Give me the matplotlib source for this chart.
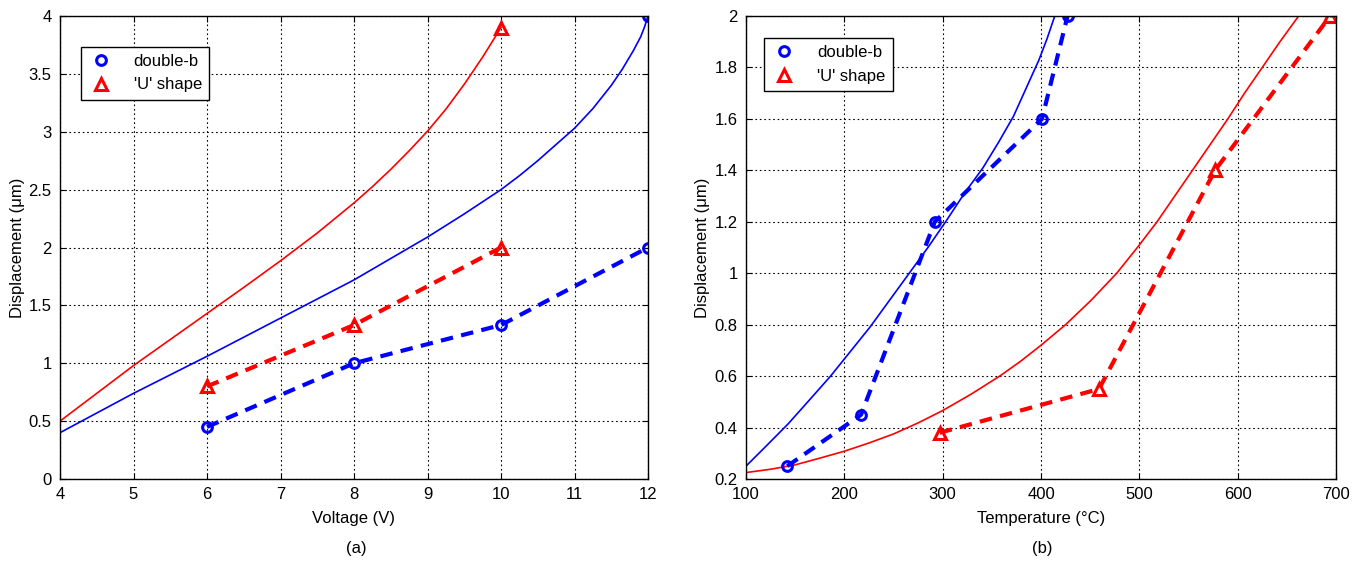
import matplotlib
matplotlib.use("Agg")
import matplotlib.pyplot as plt
from matplotlib.lines import Line2D

plt.rcParams['font.family'] = ['Liberation Sans', 'DejaVu Sans']
plt.rcParams['font.size'] = 12

# panel (a): displacement vs voltage
volt_curve_u = [4, 5, 6, 6.5, 7, 7.5, 8, 8.25, 8.5, 8.75, 9, 9.25, 9.5, 9.75, 10]
disp_curve_u = [0.5, 0.98, 1.43, 1.655, 1.885, 2.125, 2.385, 2.525, 2.675, 2.835, 3.005,
                3.195, 3.41, 3.645, 3.9]
volt_curve_b = [4, 5, 6, 7, 8, 9, 9.5, 10, 10.25, 10.5, 10.75, 11, 11.25, 11.5,
                11.65, 11.8, 11.9, 11.95, 12]
disp_curve_b = [0.4, 0.74, 1.06, 1.39, 1.72, 2.09, 2.29, 2.5, 2.62, 2.75, 2.89, 3.03,
                3.2, 3.4, 3.54, 3.7, 3.82, 3.9, 4.0]
volt_meas_b = [6, 8, 10, 12]
disp_meas_b = [0.45, 1.0, 1.33, 2.0]
volt_meas_u = [6, 8, 10]
disp_meas_u = [0.8, 1.33, 2.0]

# panel (b): displacement vs temperature
temp_curve_b = [100, 121, 143, 164, 186, 206, 226, 246, 266, 285, 303, 322, 341,
                357, 372, 385, 398, 406, 414]
dispT_curve_b = [0.25, 0.33, 0.415, 0.505, 0.6, 0.695, 0.79, 0.895, 1.0, 1.1, 1.2,
                 1.31, 1.41, 1.51, 1.61, 1.72, 1.83, 1.91, 2.0]
temp_curve_u = [100, 125, 150, 175, 200, 225, 250, 275, 300, 329, 358, 379, 400, 425,
                451, 477, 498, 518, 536, 554, 572, 590, 607, 625, 643, 662]
dispT_curve_u = [0.225, 0.238, 0.255, 0.281, 0.308, 0.34, 0.375, 0.418, 0.466, 0.53,
                 0.6, 0.657, 0.72, 0.8, 0.895, 1.0, 1.1, 1.2, 1.3, 1.4, 1.5, 1.6,
                 1.7, 1.8, 1.9, 2.0]
temp_meas_b = [142, 217, 292, 401, 427]
dispT_meas_b = [0.25, 0.45, 1.2, 1.6, 2.0]
temp_meas_u = [297, 459, 577, 694]
dispT_meas_u = [0.38, 0.55, 1.4, 2.0]

W, H = 1358, 562
fig = plt.figure(figsize=(W / 100, H / 100), dpi=100)
ax1 = fig.add_axes([60 / W, 1 - 479 / H, 588 / W, 463 / H])
ax2 = fig.add_axes([746 / W, 1 - 479 / H, 590 / W, 463 / H])

dash_kw = dict(linestyle=(0, (3, 2)), linewidth=3, markersize=7, markeredgewidth=2.2,
               markerfacecolor='none')

# (a)
ax1.plot(volt_curve_u, disp_curve_u, color='red', lw=1.2)
ax1.plot(volt_curve_b, disp_curve_b, color='blue', lw=1.2)
ax1.plot(volt_curve_u[-1:], disp_curve_u[-1:], '^', color='red', ms=9, mew=2.2, mfc='none')
ax1.plot(volt_curve_b[-1:], disp_curve_b[-1:], 'o', color='blue', ms=7, mew=2.2, mfc='none')
ax1.plot(volt_meas_u, disp_meas_u, marker='^', color='red', **{**dash_kw, 'markersize': 9})
ax1.plot(volt_meas_b, disp_meas_b, marker='o', color='blue', **dash_kw)
ax1.set_xlim(4, 12)
ax1.set_ylim(0, 4)
ax1.set_xticks(range(4, 13))
ax1.set_yticks([0, 0.5, 1, 1.5, 2, 2.5, 3, 3.5, 4])
ax1.set_yticklabels(['0', '0.5', '1', '1.5', '2', '2.5', '3', '3.5', '4'])
ax1.set_xlabel('Voltage (V)', labelpad=6)

# (b)
ax2.plot(temp_curve_b, dispT_curve_b, color='blue', lw=1.2)
ax2.plot(temp_curve_u, dispT_curve_u, color='red', lw=1.2)
ax2.plot(temp_meas_b, dispT_meas_b, marker='o', color='blue', **dash_kw)
ax2.plot(temp_meas_u, dispT_meas_u, marker='^', color='red', **{**dash_kw, 'markersize': 9})
ax2.set_xlim(100, 700)
ax2.set_ylim(0.2, 2)
ax2.set_xticks(range(100, 701, 100))
ax2.set_yticks([0.2, 0.4, 0.6, 0.8, 1, 1.2, 1.4, 1.6, 1.8, 2])
ax2.set_yticklabels(['0.2', '0.4', '0.6', '0.8', '1', '1.2', '1.4', '1.6', '1.8', '2'])
ax2.set_xlabel('Temperature (°C)', labelpad=6)

handles = [Line2D([], [], color='blue', marker='o', ls='none', ms=7, mew=2.2, mfc='none'),
           Line2D([], [], color='red', marker='^', ls='none', ms=9, mew=2.2, mfc='none')]
labels = ['double-b', "'U' shape"]

for ax, anchor in ((ax1, (0.036, 0.934)), (ax2, (0.031, 0.953))):
    ax.set_ylabel('Displacement (μm)')
    ax.grid(True, color='black', linestyle=(0, (1.5, 2.5)), linewidth=0.8)
    ax.tick_params(direction='in', top=True, right=True, length=4, labelsize=12, pad=6)
    for s in ax.spines.values():
        s.set_linewidth(1.0)
    leg = ax.legend(handles, labels, loc='upper left', bbox_to_anchor=anchor,
                    fancybox=False, framealpha=1, edgecolor='black', fontsize=12,
                    handlelength=1.5, handletextpad=1.2, borderpad=0.45,
                    labelspacing=0.5, borderaxespad=0)
    leg.get_frame().set_linewidth(1.0)

ax1.yaxis.set_label_coords(-0.06, 0.5)
ax2.yaxis.set_label_coords(-0.061, 0.5)

fig.text(356 / W, 1 - 549 / H, '(a)', ha='center', va='center', fontsize=12)
fig.text(1042 / W, 1 - 549 / H, '(b)', ha='center', va='center', fontsize=12)

fig.savefig('out.png', dpi=100)
